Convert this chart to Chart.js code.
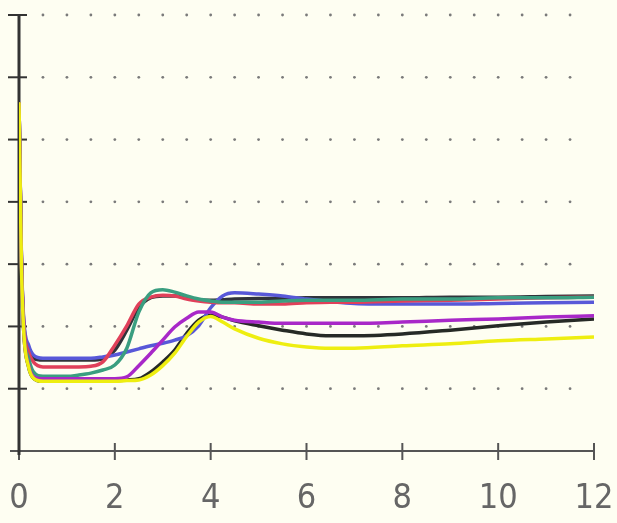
<!DOCTYPE html>
<html>
<head>
<meta charset="utf-8">
<script src="https://cdn.jsdelivr.net/npm/chart.js@4"></script>
<style>
  html, body { margin: 0; padding: 0; background: #fefef2; }
  canvas { display: block; }
</style>
</head>
<body>
<canvas id="grafico" width="617" height="523"></canvas>
<script>
// tempo (eixo x) e as curvas medidas
const tempo = [0, 0.05, 0.1, 0.2, 0.3, 0.5, 0.75, 1, 1.25, 1.5, 1.75, 2, 2.25, 2.5, 2.75, 3, 3.25, 3.5, 3.75, 4, 4.25, 4.5, 5, 5.5, 6, 6.5, 7, 8, 9, 10, 11, 12];
const xTicks = [0, 2, 4, 6, 8, 10, 12];
const yTicks = [1, 2, 3, 4, 5, 6, 7];

const azul    = [5.6, 3.15, 2.10, 1.70, 1.54, 1.49, 1.49, 1.49, 1.49, 1.49, 1.51, 1.54, 1.59, 1.64, 1.69, 1.73, 1.78, 1.85, 2.01, 2.30, 2.49, 2.54, 2.52, 2.49, 2.44, 2.40, 2.37, 2.36, 2.36, 2.37, 2.38, 2.39];
const vermelho = [5.6, 3.10, 2.02, 1.59, 1.43, 1.35, 1.35, 1.35, 1.35, 1.36, 1.43, 1.70, 2.01, 2.36, 2.47, 2.50, 2.49, 2.44, 2.41, 2.39, 2.38, 2.38, 2.36, 2.36, 2.38, 2.39, 2.39, 2.41, 2.42, 2.44, 2.46, 2.47];
const verde   = [5.6, 3.05, 1.93, 1.49, 1.27, 1.20, 1.20, 1.20, 1.22, 1.25, 1.30, 1.38, 1.65, 2.23, 2.54, 2.59, 2.55, 2.49, 2.44, 2.41, 2.39, 2.39, 2.39, 2.41, 2.42, 2.42, 2.42, 2.44, 2.44, 2.46, 2.46, 2.47];
const escuro  = [5.6, 3.10, 2.05, 1.62, 1.49, 1.46, 1.46, 1.46, 1.46, 1.46, 1.48, 1.62, 1.94, 2.30, 2.46, 2.49, 2.49, 2.46, 2.42, 2.42, 2.43, 2.44, 2.45, 2.45, 2.46, 2.46, 2.46, 2.46, 2.47, 2.47, 2.48, 2.49];
const roxo    = [5.6, 3.07, 1.94, 1.38, 1.20, 1.16, 1.16, 1.16, 1.16, 1.16, 1.16, 1.16, 1.19, 1.37, 1.57, 1.78, 1.99, 2.13, 2.23, 2.23, 2.15, 2.10, 2.07, 2.05, 2.05, 2.05, 2.05, 2.07, 2.10, 2.12, 2.15, 2.17];
const preto   = [5.6, 3.00, 1.90, 1.35, 1.17, 1.12, 1.12, 1.12, 1.12, 1.12, 1.12, 1.13, 1.14, 1.16, 1.27, 1.43, 1.62, 1.89, 2.10, 2.18, 2.15, 2.09, 2.01, 1.94, 1.88, 1.85, 1.85, 1.88, 1.94, 2.01, 2.07, 2.12];
const amarelo = [5.6, 3.00, 1.90, 1.35, 1.17, 1.12, 1.12, 1.12, 1.12, 1.12, 1.12, 1.12, 1.13, 1.14, 1.22, 1.37, 1.57, 1.84, 2.07, 2.16, 2.07, 1.96, 1.81, 1.72, 1.67, 1.65, 1.65, 1.69, 1.72, 1.77, 1.80, 1.83];

function serie(valores, cor) {
    return {
        data: valores.map((v, i) => ({ x: tempo[i], y: v })),
        borderColor: cor,
        borderWidth: 3.5,
        pointRadius: 0,
        cubicInterpolationMode: 'monotone',
        fill: false
    };
}

// eixos desenhados a mao: pontinhos da grade, linhas e marcas
const eixos = {
    id: 'eixos',
    beforeDraw(chart) {
        const ctx = chart.ctx;
        ctx.save();
        ctx.fillStyle = '#fefef2';
        ctx.fillRect(0, 0, chart.width, chart.height);
        ctx.restore();
    },
    beforeDatasetsDraw(chart) {
        const ctx = chart.ctx;
        const x = chart.scales.x;
        const y = chart.scales.y;
        ctx.save();

        // grade pontilhada
        ctx.fillStyle = '#7a7a7a';
        yTicks.forEach(v => {
            const py = y.getPixelForValue(v);
            for (let t = 0.5; t < 12; t += 0.5) {
                ctx.beginPath();
                ctx.arc(x.getPixelForValue(t), py, 1.4, 0, Math.PI * 2);
                ctx.fill();
            }
        });

        const x0 = x.getPixelForValue(0);
        const y0 = y.getPixelForValue(0);

        // eixo x
        ctx.strokeStyle = '#555';
        ctx.lineWidth = 2;
        ctx.beginPath();
        ctx.moveTo(x0 - 9, y0);
        ctx.lineTo(x.getPixelForValue(12), y0);
        ctx.stroke();
        xTicks.forEach(t => {
            const px = x.getPixelForValue(t);
            ctx.beginPath();
            ctx.moveTo(px, y0 - 8);
            ctx.lineTo(px, y0 + 9);
            ctx.stroke();
        });

        // eixo y
        ctx.strokeStyle = '#333';
        ctx.lineWidth = 3;
        ctx.beginPath();
        ctx.moveTo(x0, y.getPixelForValue(7));
        ctx.lineTo(x0, y0 + 4);
        ctx.stroke();
        ctx.lineWidth = 2;
        yTicks.forEach(v => {
            const py = y.getPixelForValue(v);
            ctx.beginPath();
            ctx.moveTo(x0 - 11, py);
            ctx.lineTo(x0 + 8, py);
            ctx.stroke();
        });
        ctx.restore();
    }
};

new Chart(document.getElementById('grafico'), {
    type: 'line',
    data: {
        datasets: [
            serie(amarelo, '#eeee10'),
            serie(roxo, '#a828c8'),
            serie(verde, '#3a9e80'),
            serie(vermelho, '#e0405a'),
            serie(azul, '#5858d8'),
            serie(preto, '#262a26'),
            serie(escuro, '#30343a')
        ]
    },
    options: {
        responsive: false,
        animation: false,
        layout: { padding: { left: 19, right: 23, top: 15, bottom: 0 } },
        plugins: { legend: { display: false }, tooltip: { enabled: false } },
        scales: {
            x: {
                type: 'linear',
                min: 0,
                max: 12,
                afterBuildTicks: s => { s.ticks = xTicks.map(v => ({ value: v })); },
                afterFit: s => { s.height = 72; s.paddingLeft = 0; s.paddingRight = 0; },
                grid: { display: false },
                border: { display: false },
                ticks: {
                    color: '#666',
                    padding: 20,
                    maxRotation: 0,
                    font: { family: "'DejaVu Sans Condensed', 'DejaVu Sans', sans-serif", size: 34 }
                }
            },
            y: {
                display: false,
                min: 0,
                max: 7
            }
        }
    },
    plugins: [eixos]
});
</script>
</body>
</html>
